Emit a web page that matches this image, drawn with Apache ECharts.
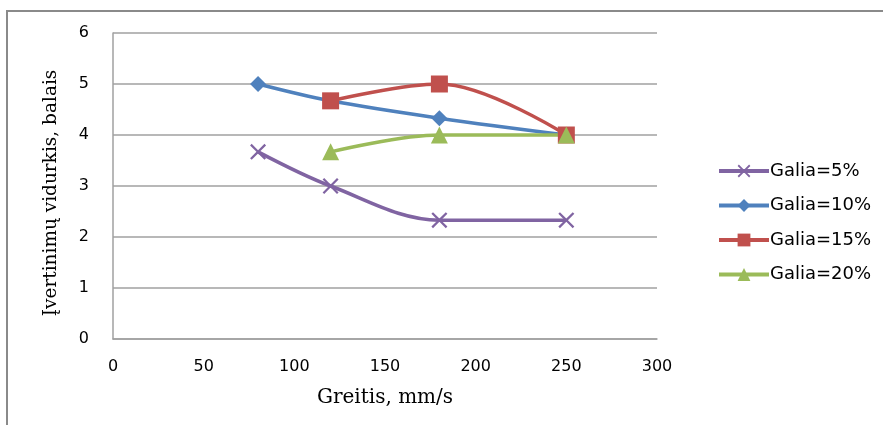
<!DOCTYPE html>
<html>
<head>
<meta charset="utf-8">
<script src="https://cdn.jsdelivr.net/npm/echarts@6/dist/echarts.min.js"></script>
<style>
  html, body { margin: 0; padding: 0; background: #fff; }
  #chart { width: 883px; height: 425px; }
</style>
</head>
<body>
<div id="chart"></div>
<script>
// Speed (mm/s) vs. average score for four power levels
const speeds5 = [80, 120, 180, 250];
const scores5 = [3.67, 3, 2.33, 2.33];
const speeds10 = [80, 120, 180, 250];
const scores10 = [5, 4.67, 4.33, 4];
const speeds15 = [120, 180, 250];
const scores15 = [4.67, 5, 4];
const speeds20 = [120, 180, 250];
const scores20 = [3.67, 4, 4];
const seriesNames = ['Galia=5%', 'Galia=10%', 'Galia=15%', 'Galia=20%'];
const xTicks = [0, 50, 100, 150, 200, 250, 300];
const yTicks = [0, 1, 2, 3, 4, 5, 6];

const pairs = (xs, ys) => xs.map((x, i) => [x, ys[i]]);
const crossPath = 'path://M0,1 L1,0 L5,4 L9,0 L10,1 L6,5 L10,9 L9,10 L5,6 L1,10 L0,9 L4,5 Z';

const sansFont = '"DejaVu Sans", sans-serif';
const serifFont = '"DejaVu Serif", serif';

function lineSeries(name, data, color, symbol, size) {
  return {
    name: name,
    type: 'line',
    data: data,
    smooth: 0.35,
    symbol: symbol,
    symbolSize: size,
    showAllSymbol: true,
    lineStyle: { color: color, width: 3.5 },
    itemStyle: { color: color },
    emphasis: { disabled: true },
    z: 3
  };
}

const chart = echarts.init(document.getElementById('chart'), null, { renderer: 'canvas' });
chart.setOption({
  animation: false,
  backgroundColor: '#fff',
  graphic: [{
    type: 'rect',
    shape: { x: 7, y: 11, width: 920, height: 460 },
    style: { fill: 'none', stroke: '#8a8a8a', lineWidth: 2 },
    silent: true
  }],
  grid: { left: 113, right: 226, top: 33, bottom: 86, containLabel: false },
  xAxis: {
    type: 'value',
    min: xTicks[0],
    max: xTicks[xTicks.length - 1],
    interval: xTicks[1] - xTicks[0],
    name: 'Greitis, mm/s',
    nameLocation: 'middle',
    nameGap: 49,
    nameTextStyle: { fontFamily: serifFont, fontSize: 20, color: '#000' },
    axisLine: { show: true, lineStyle: { color: '#a0a0a0', width: 1.5 } },
    axisTick: { show: false },
    splitLine: { show: false },
    axisLabel: { fontFamily: sansFont, fontSize: 16, color: '#000', margin: 20 }
  },
  yAxis: {
    type: 'value',
    min: yTicks[0],
    max: yTicks[yTicks.length - 1],
    interval: yTicks[1] - yTicks[0],
    name: 'Įvertinimų vidurkis, balais',
    nameLocation: 'middle',
    nameGap: 52,
    nameTextStyle: { fontFamily: serifFont, fontSize: 18.5, color: '#000', padding: [0, 0, 0, -14] },
    axisLine: { show: true, lineStyle: { color: '#a0a0a0', width: 1.5 } },
    axisTick: { show: false },
    splitLine: { show: true, lineStyle: { color: '#a0a0a0', width: 1.5 } },
    axisLabel: { fontFamily: sansFont, fontSize: 16, color: '#000', margin: 24 }
  },
  legend: {
    orient: 'vertical',
    left: 712,
    top: 157,
    itemWidth: 50,
    itemHeight: 16,
    itemGap: 16.5,
    lineStyle: { width: 4 },
    textStyle: { fontFamily: sansFont, fontSize: 18, color: '#000', padding: [0, 0, 0, -4] },
    data: seriesNames
  },
  series: [
    lineSeries(seriesNames[0], pairs(speeds5, scores5), '#8064A2', crossPath, 16),
    lineSeries(seriesNames[1], pairs(speeds10, scores10), '#4F81BD', 'diamond', 16),
    lineSeries(seriesNames[2], pairs(speeds15, scores15), '#C0504D', 'rect', 17),
    lineSeries(seriesNames[3], pairs(speeds20, scores20), '#9BBB59', 'triangle', 17)
  ]
});
</script>
</body>
</html>
